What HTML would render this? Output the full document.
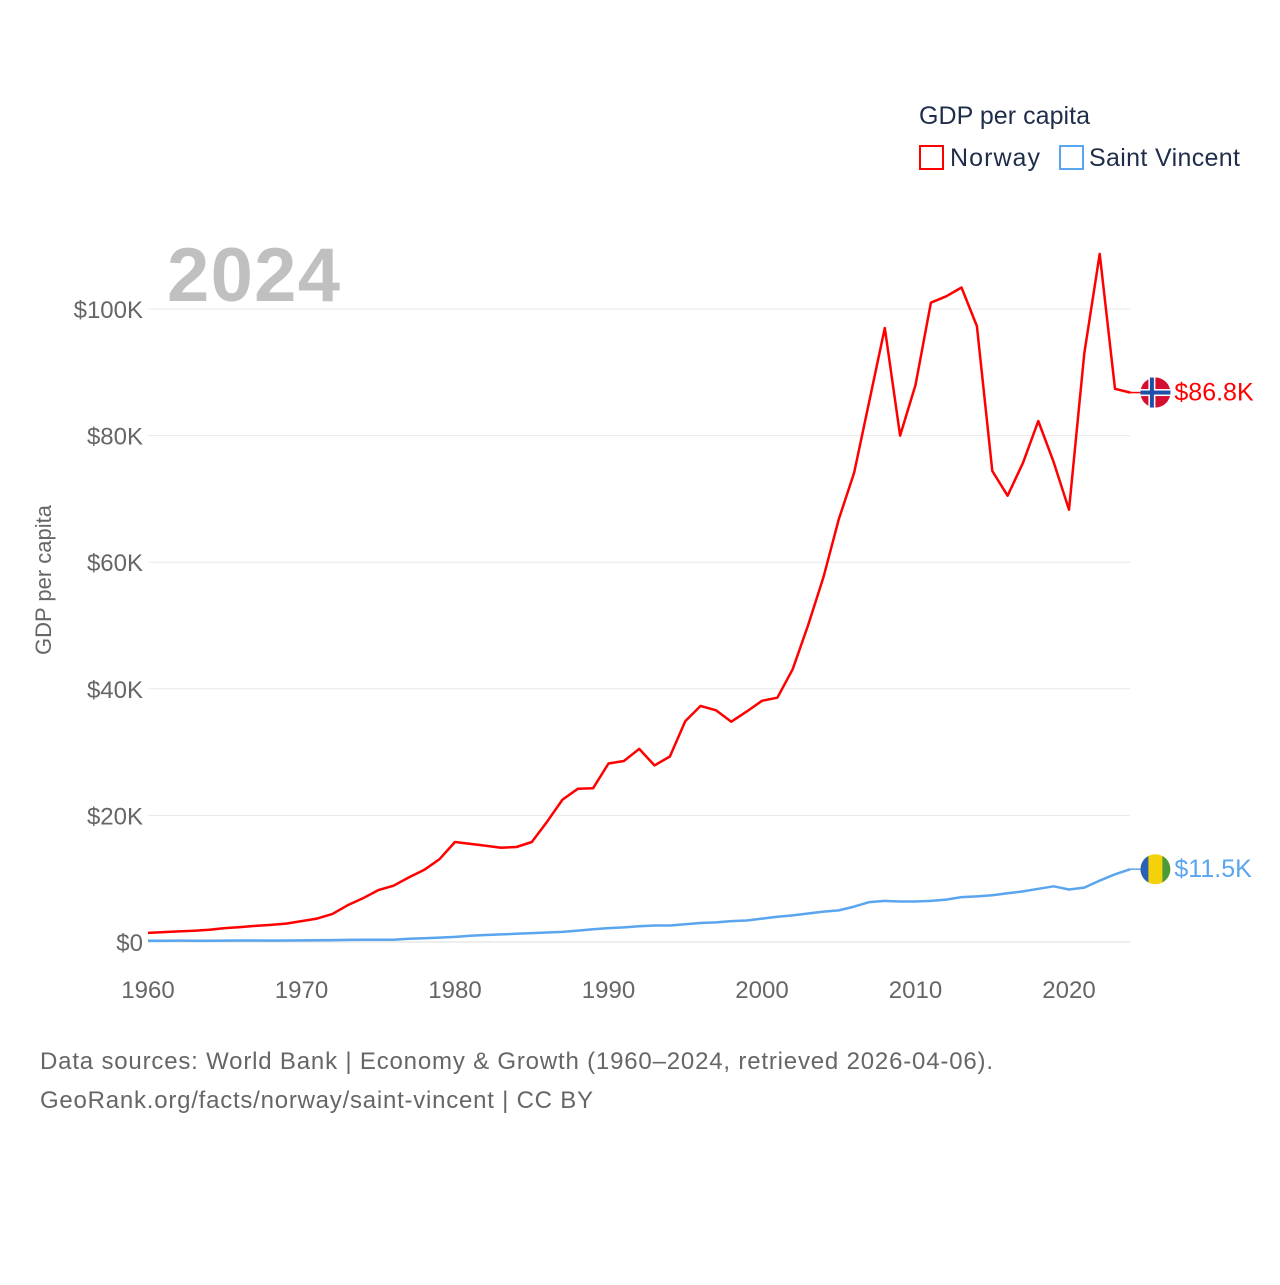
<!DOCTYPE html>
<html><head><meta charset="utf-8"><style>
body{margin:0;background:#fff;font-family:"Liberation Sans",sans-serif}
svg text{font-family:"Liberation Sans",sans-serif}
</style></head><body>
<svg id="chart" width="1280" height="1280" viewBox="0 0 1280 1280">
<text x="919" y="124" font-size="25" textLength="171" fill="#1f2d4a">GDP per capita</text>
<g><rect x="920" y="146" width="23" height="23" fill="none" stroke="#f00" stroke-width="2"/><text x="950" y="166" font-size="25" textLength="90" fill="#1f2d4a">Norway</text></g>
<g><rect x="1060" y="146" width="23" height="23" fill="none" stroke="#5aa5ef" stroke-width="2"/><text x="1089" y="166" font-size="25" textLength="151" fill="#1f2d4a">Saint Vincent</text></g>
<text x="167" y="301" font-size="76" font-weight="bold" textLength="173" fill="#c0c0c0">2024</text>
<text transform="translate(51,580) rotate(-90)" text-anchor="middle" font-size="22" fill="#666">GDP per capita</text>
<g id="grid"></g><g id="series"></g>
<text x="40" y="1069" font-size="24" textLength="953" fill="#666">Data sources: World Bank | Economy &amp; Growth (1960–2024, retrieved 2026-04-06).</text>
<text x="40" y="1108" font-size="24" textLength="553" fill="#666">GeoRank.org/facts/norway/saint-vincent | CC BY</text>
</svg>
<script>
const years=[];for(let y=1960;y<=2024;y++)years.push(y);
const norway=[1.44,1.56,1.67,1.78,1.93,2.2,2.35,2.55,2.7,2.9,3.3,3.7,4.4,5.8,6.9,8.2,8.9,10.2,11.4,13.1,15.8,15.5,15.2,14.9,15.0,15.8,19.0,22.5,24.2,24.3,28.2,28.6,30.5,27.9,29.3,34.9,37.3,36.6,34.8,36.4,38.1,38.6,43.1,50.0,57.6,66.8,74.1,85.6,97.0,80.0,88.0,101.0,102.0,103.4,97.3,74.4,70.5,75.7,82.3,75.8,68.3,93.0,108.7,87.4,86.8];
const stvincent=[0.2,0.2,0.22,0.2,0.2,0.22,0.23,0.23,0.22,0.24,0.25,0.27,0.3,0.33,0.35,0.36,0.37,0.5,0.6,0.7,0.8,1.0,1.1,1.2,1.3,1.4,1.5,1.6,1.8,2.0,2.2,2.3,2.5,2.6,2.6,2.8,3.0,3.1,3.3,3.4,3.7,4.0,4.2,4.5,4.8,5.0,5.6,6.3,6.5,6.4,6.4,6.5,6.7,7.1,7.2,7.4,7.7,8.0,8.4,8.8,8.3,8.6,9.7,10.7,11.5];
const yTicks=[0,20,40,60,80,100];
const yTickLabels=["$0","$20K","$40K","$60K","$80K","$100K"];
const xTicks=[1960,1970,1980,1990,2000,2010,2020];
const NS="http://www.w3.org/2000/svg";
const X=y=>148+(y-1960)*921/60;
const Y=v=>942-v*6.33;
function mk(t,a,p){const e=document.createElementNS(NS,t);for(const k in a)e.setAttribute(k,a[k]);p.appendChild(e);return e;}
const grid=document.getElementById('grid'),ser=document.getElementById('series');
yTicks.forEach((v,i)=>{
 const l=mk('line',{x1:148,x2:1130,y1:Y(v),y2:Y(v),stroke:v===0?'#ddd':'#e8e8e8','stroke-width':1},grid);
 
 
 const t=mk('text',{x:143,y:Y(v)+9,'text-anchor':'end','font-size':24,fill:'#666'},grid);
 t.textContent=yTickLabels[i];
 
 
});
xTicks.forEach(y=>{
 const t=mk('text',{x:X(y),y:998,'text-anchor':'middle','font-size':24,fill:'#666'},grid);
 t.textContent=y;
 
 
});
function series(vals,color,name,label){
 const d=vals.map((v,i)=>(i?'L':'M')+X(years[i]).toFixed(1)+' '+Y(v).toFixed(1)).join(' ');
 const p=mk('path',{d:d,fill:'none',stroke:color,'stroke-width':2.5,'stroke-linejoin':'round'},ser);
 
 
 const last=vals[vals.length-1],yy=Y(last),xx=X(2024);
 mk('line',{x1:xx,x2:xx+12,y1:yy,y2:yy,stroke:color,'stroke-width':1.5},ser);
 const c=mk('circle',{cx:xx+25,cy:yy,r:15,fill:name==='norway'?'#d40f2f':'#f4d20a'},ser);
 
 
 if(name==='norway'){
  mk('rect',{x:xx+10,y:yy-3.5,width:30,height:7,fill:'#fff'},ser);
  mk('rect',{x:xx+18,y:yy-15,width:7,height:30,fill:'#fff'},ser);
  mk('rect',{x:xx+10,y:yy-2,width:30,height:4,fill:'#1f4fa8'},ser);
  mk('rect',{x:xx+19.5,y:yy-15,width:4,height:30,fill:'#1f4fa8'},ser);
 } else {
  mk('path',{d:`M${xx+18} ${yy-13.2} A15 15 0 0 0 ${xx+18} ${yy+13.2} Z`,fill:'#2860b8'},ser);
  mk('path',{d:`M${xx+32} ${yy-13.2} A15 15 0 0 1 ${xx+32} ${yy+13.2} Z`,fill:'#4a9a3a'},ser);
 }
 const t=mk('text',{x:xx+44,y:yy+8,'font-size':25,fill:color},ser);
 t.textContent=label;
 
 
}
series(stvincent,'#5aa5ef','saint-vincent','$11.5K');
series(norway,'#ff0000','norway','$86.8K');
</script>
</body></html>
